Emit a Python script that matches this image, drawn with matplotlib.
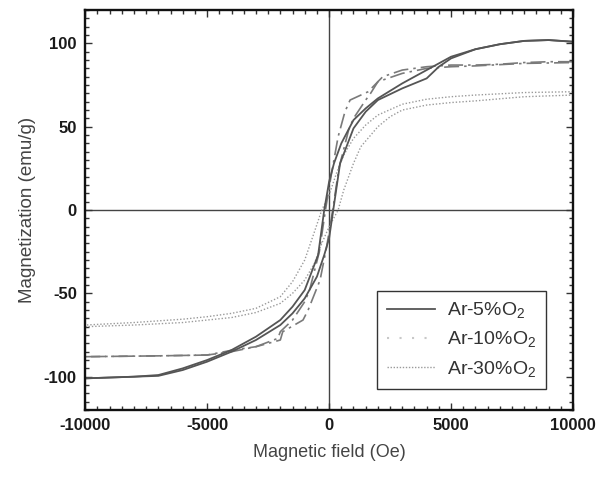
import numpy as np
import matplotlib
matplotlib.use("Agg")
import matplotlib.pyplot as plt
from matplotlib.lines import Line2D
from matplotlib.ticker import MultipleLocator

plt.rcParams['font.family'] = ['Liberation Sans', 'DejaVu Sans']
plt.rcParams['mathtext.fontset'] = 'custom'
plt.rcParams['mathtext.rm'] = 'Liberation Sans'
plt.rcParams['axes.unicode_minus'] = False

# Ar-5%O2, descending branch (upper) and ascending branch (lower)
h5_up = [10000, 9000, 8000, 7000, 6000, 5000, 4000, 3000, 2000, 1500, 1000, 500, 200, 0,
         -200, -450, -1000, -1500, -2000, -3000, -4000, -5000, -6000, -7000, -8000, -9000, -10000]
m5_up = [101, 102, 101.5, 99.5, 96.5, 92, 84, 76, 67, 61, 54, 40, 28, 17,
         0, -27, -48, -58, -66, -76, -84, -90, -95, -99, -100, -100.5, -101]
h5_dn = [-10000, -9000, -8000, -7000, -6000, -5000, -4000, -3000, -2000, -1500, -1000, -500, -200, 0,
         170, 450, 1000, 1500, 2000, 3000, 4000, 4500, 5000, 6000, 7000, 8000, 9000, 10000]
m5_dn = [-101, -100.5, -100, -99.5, -96, -91, -85, -78, -69, -62, -53, -40, -27, -17,
         0, 28, 49, 59, 66, 73, 79, 86, 91, 96.5, 99.5, 101.5, 102, 101]

# Ar-10%O2
h10_up = [10000, 9000, 8000, 7000, 6000, 5000, 4000, 3000, 2200, 1800, 1600, 860, 650, 370, 100,
          -150, -400, -800, -1000, -1500, -2000, -2100, -3000, -4000, -5000, -7000, -10000]
m10_up = [89, 89, 88.5, 87.5, 87, 87, 86, 84, 80, 74, 71, 66, 59, 44, 22,
          0, -25, -48, -55, -66, -73, -77, -82, -85, -87, -87.5, -88]
h10_dn = [-10000, -7000, -5000, -3940, -3000, -2000, -1900, -1070, -860, -370, -100,
          150, 400, 800, 1000, 1500, 1700, 2000, 3000, 4000, 5000, 6000, 8000, 10000]
m10_dn = [-88, -87.5, -87, -84, -82, -78, -73, -66, -60, -42, -22,
          0, 25, 48, 55, 66, 70, 77, 82, 85, 86, 86.5, 88, 88.5]

# Ar-30%O2
h30_up = [10000, 8000, 6000, 5000, 4000, 3000, 2000, 1500, 1000, 600, 300, 0,
          -300, -600, -1000, -1500, -2000, -3000, -4000, -5000, -6000, -8000, -10000]
m30_up = [71, 70.5, 69, 68, 66.5, 63.5, 57, 51, 43, 33, 22, 9,
          0, -13, -30, -43, -52, -59, -62, -64, -65.5, -67.5, -69]
h30_dn = [-10000, -8000, -6000, -5000, -4000, -3000, -2000, -1500, -1000, -600, -300, 0,
          370, 600, 1000, 1300, 2000, 2500, 3000, 4000, 5000, 6000, 8000, 10000]
m30_dn = [-70, -69, -67.5, -66, -64.5, -61.5, -56, -50, -42, -32, -20, -10,
          0, 12, 28, 38, 50, 56, 60, 63, 64.5, 65.5, 68, 69]

labels = ['Ar-5%O$_2$', 'Ar-10%O$_2$', 'Ar-30%O$_2$']

fig = plt.figure(figsize=(6.0, 4.79), dpi=100)
ax = fig.add_axes([0.142, 0.144, 0.813, 0.835])

ax.axhline(0, color='#444444', lw=1.0, zorder=1)
ax.axvline(0, color='#444444', lw=1.0, zorder=1)

sty5 = dict(color='#555555', lw=1.3, ls='-')
sty10 = dict(color='#7a7a7a', lw=1.2, ls=(0, (9, 3, 1.5, 3)))
sty30 = dict(color='#9a9a9a', lw=1.0, ls=(0, (1, 1.4)))

ax.plot(h30_up, m30_up, **sty30)
ax.plot(h30_dn, m30_dn, **sty30)
ax.plot(h10_up, m10_up, **sty10)
ax.plot(h10_dn, m10_dn, **sty10)
ax.plot(h5_up, m5_up, **sty5)
ax.plot(h5_dn, m5_dn, **sty5)

ax.set_xlim(-10000, 10000)
ax.set_ylim(-120, 120)
ax.xaxis.set_major_locator(MultipleLocator(5000))
ax.xaxis.set_minor_locator(MultipleLocator(500))
ax.yaxis.set_major_locator(MultipleLocator(50))
ax.yaxis.set_minor_locator(MultipleLocator(5))
ax.tick_params(which='both', direction='in', top=True, right=True, width=1.0, color='#333333')
ax.tick_params(which='major', length=5, labelsize=12, pad=6)
ax.tick_params(which='minor', length=3)
for t in ax.get_xticklabels() + ax.get_yticklabels():
    t.set_fontweight('bold')
    t.set_color('#1a1a1a')
for s in ax.spines.values():
    s.set_linewidth(1.7)
    s.set_color('#111111')

ax.set_xlabel('Magnetic field (Oe)', fontsize=13, color='#444444', labelpad=8)
ax.set_ylabel('Magnetization (emu/g)', fontsize=13.5, color='#444444', labelpad=6)

handles = [Line2D([], [], **sty5),
           Line2D([], [], color='#c8c8c8', lw=1.5, ls=(0, (1, 5))),
           Line2D([], [], color='#9a9a9a', lw=1.0, ls=(0, (1, 1.2)))]
leg = ax.legend(handles, labels, loc='lower left', bbox_to_anchor=(0.598, 0.052),
                borderaxespad=0, fancybox=False, framealpha=1, edgecolor='#333333',
                fontsize=14, handlelength=2.5, handletextpad=0.6, labelspacing=0.45,
                borderpad=0.5)
leg.get_frame().set_linewidth(1.0)
for t in leg.get_texts():
    t.set_color('#333333')

fig.savefig('out.png', dpi=100)
